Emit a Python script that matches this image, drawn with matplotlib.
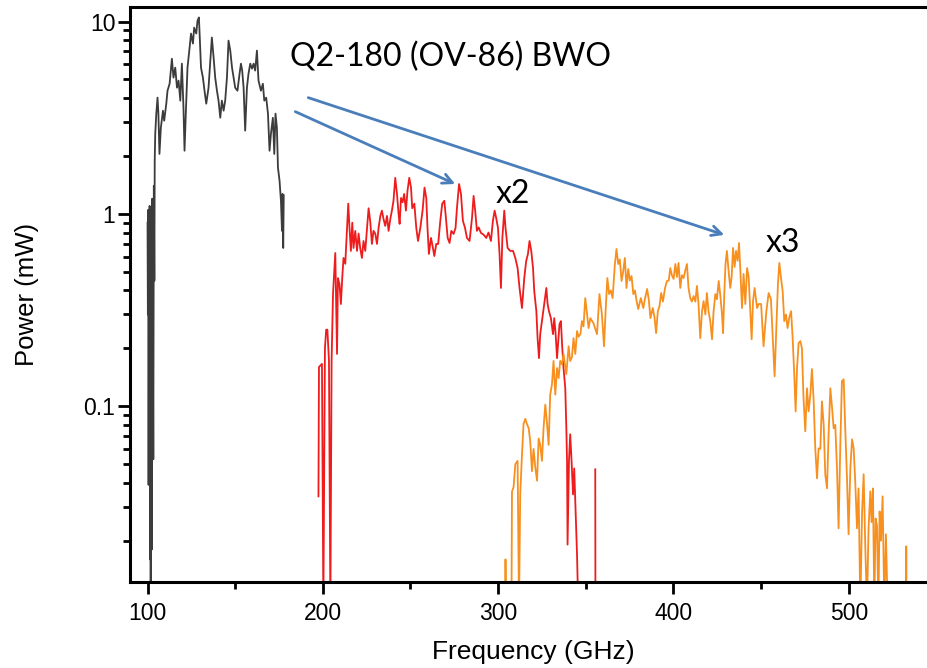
import numpy as np
import matplotlib
matplotlib.use("Agg")
import matplotlib.pyplot as plt
from matplotlib.ticker import FixedLocator, FixedFormatter, LogLocator, NullFormatter

# BWO output power (mW) vs frequency (GHz)
# fundamental
bwo_fund = [
    (100.0, 0.9), (100.2, 0.3), (100.4, 1.05), (100.6, 0.039), (100.8, 0.6),
    (101.0, 0.25), (101.2, 1.1), (101.4, 0.016), (101.6, 0.9), (101.8, 0.009),
    (102.1, 0.8), (102.4, 0.018), (102.7, 1.2), (103.0, 0.35), (103.3, 0.053),
    (103.6, 1.4), (103.9, 0.45), (104.1, 1.9), (104.4, 2.61), (105.0, 3.32),
    (105.7, 4.02), (106.2, 3.32), (106.8, 2.05), (107.6, 2.80), (108.8, 3.44),
    (109.5, 3.05), (110.7, 3.74), (111.4, 4.37), (112.6, 4.75), (113.9, 6.41),
    (114.8, 5.11), (115.8, 5.76), (116.8, 4.53), (117.7, 4.93), (118.7, 3.88),
    (119.6, 6.04), (120.5, 3.56), (121.1, 2.13), (122.1, 3.88), (122.8, 5.76),
    (124.0, 7.32), (124.8, 8.66), (125.9, 7.68), (126.6, 9.3), (127.8, 8.66),
    (128.5, 10.1), (129.3, 10.5), (129.7, 8.66), (130.5, 5.76), (131.6, 5.11),
    (132.5, 4.37), (133.5, 3.74), (134.8, 4.53), (136.2, 7.06), (136.7, 8.26),
    (137.7, 6.49), (138.6, 5.11), (139.6, 4.37), (140.5, 3.88), (141.5, 3.16),
    (142.4, 3.88), (143.4, 3.44), (144.3, 3.88), (145.3, 5.11), (146.2, 7.96),
    (147.2, 7.06), (148.2, 5.76), (149.1, 5.11), (150.0, 4.53), (151.3, 4.37),
    (152.5, 5.36), (153.3, 6.04), (154.0, 5.56), (154.8, 4.53), (155.7, 2.71),
    (156.7, 4.53), (157.6, 5.36), (158.6, 6.04), (159.6, 5.69), (160.5, 6.04),
    (161.4, 5.56), (162.4, 7.06), (163.3, 4.93), (164.7, 4.37), (165.8, 4.75),
    (166.6, 3.88), (167.7, 4.02), (168.7, 3.32), (169.6, 2.13), (170.4, 2.61),
    (171.5, 3.16), (172.3, 2.05), (173.0, 3.32), (173.8, 2.80), (174.4, 1.74),
    (175.3, 1.49), (176.1, 1.17), (176.7, 0.816), (177.0, 1.27), (177.4, 0.665),
    (177.7, 1.25),
]

# second harmonic (x2)
bwo_x2 = [
    (197.5, 0.034), (197.8, 0.16), (199.5, 0.166), (200.3, 0.009), (201.2, 0.2),
    (201.9, 0.25), (202.6, 0.25), (203.5, 0.172), (204.3, 0.009), (205.0, 0.172),
    (205.8, 0.383), (207.1, 0.626), (208.1, 0.187), (208.6, 0.464), (209.5, 0.432),
    (210.3, 0.34), (211.1, 0.47), (211.8, 0.59), (212.8, 0.55), (213.8, 0.846),
    (214.5, 1.13), (215.2, 0.85), (216.0, 0.642), (216.8, 0.9), (217.5, 0.665),
    (218.5, 0.816), (219.5, 0.642), (220.4, 0.79), (221.3, 0.665), (222.3, 0.59),
    (223.2, 0.723), (224.2, 0.642), (225.2, 0.846), (226.1, 1.07), (227.0, 0.92),
    (228.0, 0.698), (228.9, 0.816), (229.9, 0.79), (230.9, 0.698), (231.8, 0.846),
    (232.8, 0.976), (233.7, 1.04), (234.6, 0.942), (235.6, 0.866), (236.6, 0.976),
    (237.5, 0.816), (238.5, 0.942), (239.4, 1.04), (240.3, 1.17), (241.3, 1.54),
    (242.3, 1.27), (243.2, 1.0), (243.8, 0.887), (244.6, 1.21), (245.5, 1.15),
    (246.4, 1.27), (247.4, 1.04), (248.3, 1.32), (249.3, 1.54), (250.3, 1.37),
    (251.0, 1.07), (252.2, 1.13), (253.3, 0.846), (254.3, 0.723), (255.6, 0.846),
    (256.9, 1.04), (258.0, 1.37), (259.0, 1.21), (259.7, 0.846), (260.5, 0.619),
    (261.7, 0.75), (262.8, 0.665), (263.6, 0.604), (264.7, 0.698), (265.8, 0.698),
    (267.0, 0.92), (268.1, 1.13), (269.3, 1.17), (270.0, 1.0), (271.2, 0.75),
    (272.3, 0.706), (273.3, 0.816), (274.6, 0.787), (275.7, 0.846), (276.5, 1.07),
    (277.7, 1.43), (278.8, 1.27), (279.9, 0.92), (281.1, 0.846), (282.2, 0.75),
    (283.7, 0.723), (285.1, 0.953), (286.0, 1.24), (286.9, 1.04), (287.9, 0.816),
    (288.9, 0.85), (290.2, 0.796), (291.7, 0.78), (293.2, 0.75), (294.5, 0.80),
    (295.9, 0.723), (297.0, 0.92), (298.0, 1.04), (298.9, 0.95), (299.9, 0.846),
    (300.8, 0.619), (301.6, 0.412), (302.4, 0.75), (303.5, 1.04), (304.2, 0.846),
    (305.4, 0.665), (306.9, 0.642), (308.5, 0.642), (309.8, 0.590), (311.1, 0.523),
    (312.2, 0.412), (313.6, 0.324), (314.9, 0.464), (316.0, 0.569), (317.0, 0.619),
    (317.9, 0.723), (318.9, 0.642), (319.9, 0.523), (320.6, 0.397), (321.8, 0.312),
    (322.5, 0.226), (323.3, 0.178), (324.0, 0.237), (325.2, 0.287), (326.3, 0.34),
    (327.5, 0.412), (328.2, 0.34), (329.0, 0.312), (330.1, 0.287), (331.3, 0.237),
    (332.0, 0.287), (332.8, 0.237), (333.6, 0.178), (334.3, 0.218), (335.0, 0.267),
    (335.8, 0.277), (336.6, 0.200), (337.3, 0.158), (338.3, 0.124), (338.9, 0.0768),
    (339.3, 0.0517), (339.6, 0.0191), (340.4, 0.0517), (341.1, 0.0715), (341.9, 0.0517),
    (342.7, 0.0348), (343.4, 0.0475), (344.2, 0.0284), (345.0, 0.0169), (345.7, 0.009),
    (np.nan, np.nan), (355.4, 0.047), (355.5, 0.009),
]

# third harmonic (x3)
bwo_x3 = [
    (304.0, 0.009), (304.2, 0.016), (304.5, 0.009), (307.6, 0.009), (307.9, 0.036),
    (308.8, 0.038), (309.8, 0.050), (311.1, 0.052), (311.9, 0.009), (312.6, 0.035),
    (313.6, 0.056), (314.5, 0.081), (315.5, 0.086), (316.4, 0.081), (317.4, 0.077),
    (318.3, 0.066), (319.3, 0.046), (320.2, 0.060), (321.2, 0.048), (322.2, 0.041),
    (323.1, 0.068), (324.0, 0.063), (325.0, 0.052), (325.9, 0.077), (326.9, 0.102),
    (327.9, 0.081), (328.8, 0.063), (329.7, 0.115), (330.7, 0.130), (331.6, 0.172),
    (332.6, 0.115), (333.6, 0.158), (334.5, 0.140), (335.4, 0.172), (336.4, 0.165),
    (337.3, 0.187), (338.9, 0.147), (340.2, 0.205), (341.1, 0.172), (342.1, 0.18),
    (343.0, 0.226), (344.0, 0.187), (345.0, 0.246), (345.9, 0.23), (346.9, 0.237),
    (347.8, 0.277), (348.7, 0.26), (349.7, 0.365), (350.7, 0.301), (351.6, 0.255),
    (352.6, 0.287), (354.4, 0.27), (356.4, 0.237), (357.8, 0.383), (359.2, 0.30),
    (360.4, 0.205), (361.3, 0.312), (362.3, 0.464), (363.3, 0.383), (364.3, 0.40),
    (365.3, 0.365), (366.6, 0.549), (367.5, 0.657), (368.5, 0.549), (369.4, 0.58),
    (370.4, 0.448), (371.3, 0.50), (372.3, 0.59), (373.2, 0.412), (374.2, 0.517),
    (375.1, 0.45), (376.1, 0.475), (377.1, 0.383), (378.0, 0.40), (379.0, 0.352),
    (379.9, 0.320), (381.4, 0.365), (382.8, 0.324), (383.7, 0.36), (385.0, 0.407),
    (385.9, 0.36), (386.9, 0.287), (388.2, 0.324), (389.2, 0.29), (390.1, 0.240),
    (391.1, 0.312), (392.0, 0.33), (393.0, 0.388), (394.0, 0.35), (395.2, 0.412),
    (396.3, 0.448), (397.3, 0.45), (398.2, 0.523), (399.1, 0.48), (400.1, 0.459),
    (401.1, 0.549), (402.0, 0.47), (402.9, 0.556), (403.9, 0.412), (404.8, 0.48),
    (405.8, 0.464), (406.8, 0.51), (407.7, 0.549), (408.6, 0.412), (409.6, 0.365),
    (410.5, 0.35), (411.5, 0.374), (412.5, 0.35), (413.4, 0.422), (414.3, 0.340),
    (415.3, 0.226), (416.3, 0.312), (417.2, 0.352), (418.2, 0.30), (419.1, 0.388),
    (420.0, 0.312), (421.0, 0.277), (422.0, 0.223), (422.9, 0.312), (423.9, 0.383),
    (424.8, 0.36), (425.8, 0.448), (426.7, 0.38), (427.7, 0.301), (428.3, 0.240),
    (429.0, 0.383), (429.7, 0.549), (430.5, 0.642), (431.5, 0.50), (432.4, 0.412),
    (433.2, 0.47), (434.0, 0.665), (434.9, 0.53), (435.7, 0.642), (436.6, 0.57),
    (437.4, 0.706), (438.1, 0.523), (439.1, 0.324), (440.0, 0.487), (441.0, 0.340),
    (442.0, 0.523), (442.9, 0.47), (443.8, 0.312), (444.6, 0.223), (445.4, 0.352),
    (446.3, 0.412), (447.7, 0.324), (448.6, 0.34), (450.0, 0.340), (451.4, 0.205),
    (453.0, 0.312), (454.3, 0.388), (455.6, 0.36), (456.8, 0.210), (457.7, 0.143),
    (458.7, 0.255), (459.6, 0.432), (460.4, 0.556), (461.4, 0.46), (462.3, 0.397),
    (463.2, 0.277), (464.2, 0.30), (465.1, 0.255), (466.1, 0.29), (467.1, 0.312),
    (468.0, 0.226), (468.9, 0.147), (469.7, 0.094), (470.5, 0.158), (471.4, 0.213),
    (472.4, 0.218), (473.3, 0.20), (474.2, 0.110), (475.2, 0.0741), (476.2, 0.124),
    (477.1, 0.094), (478.1, 0.115), (479.0, 0.156), (480.0, 0.106), (480.9, 0.0604),
    (481.9, 0.0422), (482.8, 0.0604), (483.8, 0.06), (484.7, 0.106), (485.7, 0.08),
    (486.6, 0.0443), (487.6, 0.0374), (488.5, 0.0715), (489.5, 0.124), (490.4, 0.10),
    (491.4, 0.0768), (492.3, 0.08), (493.3, 0.0475), (494.2, 0.0232), (495.2, 0.0634),
    (496.1, 0.135), (497.1, 0.138), (498.0, 0.0768), (499.0, 0.0422), (499.9, 0.0216),
    (500.9, 0.0475), (501.9, 0.0673), (502.8, 0.0604), (503.7, 0.0407), (504.7, 0.0232),
    (505.6, 0.0374), (506.6, 0.009), (507.6, 0.0284), (508.5, 0.0443), (509.4, 0.0191),
    (510.4, 0.009), (511.3, 0.0232), (512.3, 0.0361), (513.0, 0.025), (513.8, 0.0374),
    (514.6, 0.009), (515.3, 0.0261), (516.1, 0.024), (516.9, 0.009), (517.6, 0.0284),
    (518.4, 0.02), (519.3, 0.034), (520.3, 0.009), (521.2, 0.0216), (522.2, 0.009),
    (np.nan, np.nan), (532.7, 0.009), (532.8, 0.0187), (532.9, 0.009),
]

x_ticks = [100, 200, 300, 400, 500]
y_ticks = [0.1, 1, 10]
y_ticklabels = ["0.1", "1", "10"]

plt.rcParams["font.family"] = ["Liberation Sans", "DejaVu Sans"]

fig = plt.figure(figsize=(9.28, 6.68), dpi=100)
ax = fig.add_axes([130 / 928, 1 - 582 / 668, 1 - 130 / 928 + 0.01, 575 / 668])

for data, col in [(bwo_fund, "#3c3c3c"), (bwo_x2, "#ee1c1c"), (bwo_x3, "#f7901e")]:
    f, p = zip(*data)
    ax.plot(f, p, color=col, lw=1.3)

ax.set_yscale("log")
ax.set_xlim(90, 550.5)
ax.set_ylim(0.0122, 11.9)

ax.xaxis.set_major_locator(FixedLocator(x_ticks))
ax.xaxis.set_minor_locator(FixedLocator([150, 250, 350, 450]))
ax.yaxis.set_major_locator(FixedLocator(y_ticks))
ax.yaxis.set_major_formatter(FixedFormatter(y_ticklabels))
ax.yaxis.set_minor_locator(LogLocator(base=10, subs=np.arange(2, 10)))
ax.yaxis.set_minor_formatter(NullFormatter())

ax.tick_params(which="major", direction="out", length=8.5, width=2, labelsize=16.5)
ax.tick_params(which="minor", direction="out", length=5, width=2)
ax.tick_params(axis="x", which="major", pad=6)
ax.tick_params(axis="y", which="major", pad=2)
ax.tick_params(right=False, top=False, which="both")

for s in ["left", "bottom", "top"]:
    ax.spines[s].set_linewidth(2.2)
ax.spines["right"].set_visible(False)

ax.set_xlabel("Frequency (GHz)", fontsize=19, labelpad=11)
ax.set_ylabel("Power (mW)", fontsize=18.5, labelpad=32)

arrow_col = "#4a7ebb"
ax.annotate("", xy=(275.5, 1.43), xytext=(184.3, 3.40),
            arrowprops=dict(arrowstyle="->,head_length=0.7,head_width=0.35",
                            color=arrow_col, lw=2, shrinkA=0, shrinkB=0))
ax.annotate("", xy=(429.0, 0.778), xytext=(191.7, 4.02),
            arrowprops=dict(arrowstyle="->,head_length=0.7,head_width=0.35",
                            color=arrow_col, lw=2, shrinkA=0, shrinkB=0))

ax.text(181.4, 5.83, "Q2-180 (OV-86) BWO", fontsize=23, family="Lato", va="baseline")
ax.text(298.4, 1.14, "x2", fontsize=23, family="Lato", va="baseline")
ax.text(452.4, 0.634, "x3", fontsize=23, family="Lato", va="baseline")

fig.savefig("out.png", dpi=100)
